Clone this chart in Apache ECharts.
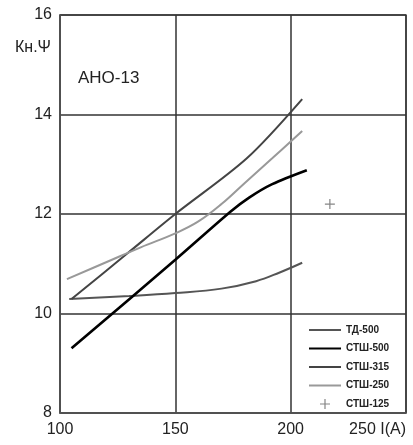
<!DOCTYPE html>
<html><head><meta charset="utf-8">
<script src="https://cdn.jsdelivr.net/npm/echarts@6/dist/echarts.min.js"></script>
<style>html,body{margin:0;padding:0;background:#fff}#c{width:413px;height:445px}</style>
</head><body><div id="c"></div>
<script>
const xTicks = [100, 150, 200, 250];
const yTicks = [8, 10, 12, 14, 16];
const td500   = [[104,10.29],[130,10.35],[150,10.41],[170,10.5],[185,10.65],[195,10.82],[205,11.02]];
const stsh500 = [[105,9.3],[150,11.08],[174,12.05],[182,12.33],[192,12.6],[207,12.88]];
const stsh315 = [[105,10.29],[129,11.2],[150,12.0],[181,13.12],[205,14.31]];
const stsh250 = [[103,10.69],[120,11.03],[135,11.33],[150,11.61],[160,11.85],[170,12.2],[180,12.62],[192,13.12],[205,13.67]];
const stsh125 = [[217,12.2]];
const names = ['ТД-500','СТШ-500','СТШ-315','СТШ-250','СТШ-125'];
const FONT = '"Liberation Sans", Arial, sans-serif';
const plus = 'path://M4.4,0h1.2v4.4h4.4v1.2h-4.4v4.4h-1.2v-4.4h-4.4v-1.2h4.4z';
const noSym = {opacity:0};

const chart = echarts.init(document.getElementById('c'), null, {renderer:'canvas'});
chart.setOption({
  animation:false,
  backgroundColor:'#fff',
  grid:{left:60,right:7,top:15,bottom:32,show:true,borderColor:'#555',borderWidth:1.5},
  xAxis:{type:'value',min:100,max:250,interval:50,
    axisLine:{show:true,lineStyle:{color:'#555',width:1.5}},
    axisTick:{show:false},
    splitLine:{show:true,lineStyle:{color:'#333',width:1.5}},
    axisLabel:{color:'#222',fontSize:16,fontFamily:FONT,margin:9,alignMaxLabel:'right',
      formatter:v=> v===250 ? '250 I(A)' : String(v)}},
  yAxis:{type:'value',min:8,max:16,interval:2,
    axisLine:{show:true,lineStyle:{color:'#555',width:1.5}},
    axisTick:{show:false},
    splitLine:{show:true,lineStyle:{color:'#333',width:1.5}},
    axisLabel:{color:'#222',fontSize:16,fontFamily:FONT,margin:8}},
  legend:{orient:'vertical',left:303,top:320,itemWidth:32,itemHeight:10,itemGap:8.5,
    textStyle:{fontSize:10,fontWeight:'bold',fontFamily:FONT,color:'#222',padding:[0,0,0,0]},
    data:[
      {name:'ТД-500',itemStyle:noSym},
      {name:'СТШ-500',itemStyle:noSym},
      {name:'СТШ-315',itemStyle:noSym},
      {name:'СТШ-250',itemStyle:noSym},
      {name:'СТШ-125',icon:plus}
    ]},
  graphic:[
    {type:'text',left:15,top:40,style:{text:'Кн.Ψ',font:'16px '+FONT,fill:'#222'}},
    {type:'text',left:78,top:70,style:{text:'АНО-13',font:'17px '+FONT,fill:'#222'}}
  ],
  series:[
    {name:names[0],type:'line',data:td500,smooth:0.4,showSymbol:false,symbol:'none',color:'#555',lineStyle:{color:'#555',width:2}},
    {name:names[1],type:'line',data:stsh500,smooth:0.3,showSymbol:false,symbol:'none',color:'#000',lineStyle:{color:'#000',width:2.6}},
    {name:names[2],type:'line',data:stsh315,smooth:0.3,showSymbol:false,symbol:'none',color:'#444',lineStyle:{color:'#444',width:2}},
    {name:names[3],type:'line',data:stsh250,smooth:0.4,showSymbol:false,symbol:'none',color:'#999',lineStyle:{color:'#999',width:2}},
    {name:names[4],type:'scatter',data:stsh125,symbol:plus,symbolSize:10,color:'#666',itemStyle:{color:'#666'}}
  ]
});
</script></body></html>
